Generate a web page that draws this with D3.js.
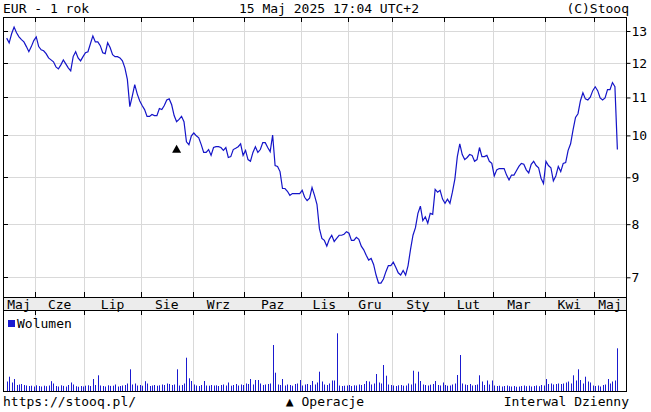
<!DOCTYPE html>
<html><head><meta charset="utf-8">
<script src="https://cdn.jsdelivr.net/npm/d3@7"></script>
<style>
body{margin:0;background:#fff}
svg{display:block}
text{font-family:"DejaVu Sans Mono",monospace;font-size:13px;fill:#000}
</style>
</head><body>
<svg id="c" width="651" height="412"></svg>
<script>
// ---- data ----
const monthLabels = ["Maj","Cze","Lip","Sie","Wrz","Paz","Lis","Gru","Sty","Lut","Mar","Kwi","Maj"];
const monthStartIdx = [0,12,32,55,76,97,120,139,157,178,198,219,239];
const priceTicks = [7,8,9,10,11,12,13];
const closePrices = [
12.77,12.62,12.91,13.13,12.94,12.81,12.72,12.65,12.50,12.34,
12.50,12.69,12.81,12.50,12.40,12.37,12.28,12.15,12.09,12.03,
11.88,11.82,11.94,12.09,11.97,11.85,11.76,12.19,12.34,12.15,
12.06,12.19,12.31,12.34,12.59,12.84,12.65,12.65,12.53,12.31,
12.28,12.62,12.47,12.25,12.19,12.19,12.15,12.06,11.85,11.51,
10.75,11.04,11.36,11.10,10.91,10.78,10.67,10.49,10.49,10.54,
10.51,10.51,10.70,10.67,10.78,10.93,10.96,10.80,10.51,10.35,
10.41,10.49,10.35,9.84,9.77,9.99,10.06,9.99,9.94,9.77,
9.58,9.58,9.65,9.51,9.70,9.72,9.72,9.70,9.63,9.70,
9.46,9.48,9.65,9.68,9.72,9.79,9.51,9.63,9.41,9.37,
9.58,9.72,9.58,9.65,9.82,9.82,9.70,9.60,10.01,9.27,
9.25,9.13,8.75,8.75,8.69,8.60,8.64,8.64,8.64,8.64,
8.71,8.56,8.49,8.54,8.77,8.60,8.41,7.91,7.72,7.68,
7.57,7.70,7.78,7.66,7.72,7.78,7.78,7.80,7.85,7.82,
7.68,7.68,7.74,7.70,7.57,7.50,7.40,7.31,7.34,7.23,
7.04,6.90,6.90,6.97,7.10,7.21,7.21,7.27,7.18,7.08,
7.04,7.12,7.04,7.21,7.51,7.78,7.93,8.22,8.37,8.07,
8.15,8.02,8.22,8.20,8.73,8.67,8.71,8.52,8.43,8.52,
8.43,8.67,8.96,9.48,9.79,9.53,9.41,9.46,9.53,9.51,
9.37,9.41,9.70,9.48,9.48,9.51,9.37,9.32,9.03,9.17,
9.20,9.20,9.20,9.05,8.94,9.05,9.05,9.15,9.25,9.32,
9.30,9.17,9.10,9.30,9.37,9.27,9.22,8.98,8.86,9.37,
9.27,9.22,8.92,9.03,9.25,9.13,9.32,9.34,9.63,9.79,
10.14,10.46,10.56,10.91,11.13,10.96,10.93,11.01,11.19,11.30,
11.19,10.99,10.93,10.99,11.22,11.22,11.42,11.30,9.65
];
const volumes = [
95,143,85,120,60,65,70,60,55,50,
53,45,57,50,45,53,48,55,98,75,
50,45,57,51,45,60,85,65,48,43,
50,45,53,57,50,120,60,157,55,50,
45,57,51,53,65,45,50,55,60,75,
217,65,75,55,60,53,98,75,50,55,
60,53,57,65,60,75,70,60,65,217,
55,60,75,333,127,100,65,55,50,60,
100,55,53,60,55,57,50,60,65,55,
85,53,60,70,55,65,60,75,70,120,
65,110,110,75,60,65,70,75,460,183,
65,60,120,55,65,60,53,70,75,110,
55,65,70,60,100,65,85,193,95,65,
60,75,105,105,577,55,50,53,55,60,
50,57,55,65,60,70,100,95,65,75,
170,85,75,260,153,65,60,55,50,57,
60,53,55,75,65,203,75,193,100,65,
60,55,63,70,100,60,55,85,60,53,
55,65,75,160,360,75,65,60,70,55,
60,65,157,95,60,105,65,105,55,50,
53,45,50,55,48,45,50,43,45,50,
55,48,53,45,50,55,48,60,55,120,
70,75,65,70,75,70,75,85,95,75,
157,105,217,110,75,143,95,85,55,50,
55,45,60,65,120,75,95,105,427
];
const operationIdx = [69];

// ---- layout ----
const L = 3, R = 626, T = 17, B = 297, bandB = 310, volB = 391.5;
const svg = d3.select("#c");

const x = d3.scaleLinear().domain([-1.5, 251.5]).range([L, R]);
const y = d3.scaleLog().domain([7, 13]).range([277.3, 31]);
const yv = d3.scaleLinear().domain([0, 790]).range([391, 312]);

const gridC = "#d9d9d9";
const bounds = monthStartIdx.slice(1).map(i => Math.round(x(i - 0.5)) + 0.5);

// grid main
const g = svg.append("g");
g.selectAll(".hg").data(priceTicks).join("line")
  .attr("x1", L).attr("x2", R)
  .attr("y1", d => Math.round(y(d)) + 0.5).attr("y2", d => Math.round(y(d)) + 0.5)
  .attr("stroke", gridC);
g.selectAll(".vg").data(bounds).join("line")
  .attr("x1", d => d).attr("x2", d => d).attr("y1", T).attr("y2", B)
  .attr("stroke", gridC);
// grid volume
g.selectAll(".vg2").data(bounds).join("line")
  .attr("x1", d => d).attr("x2", d => d).attr("y1", bandB).attr("y2", volB)
  .attr("stroke", gridC);

// band
svg.append("rect").attr("x", L + 0.5).attr("y", B + 0.5).attr("width", R - L).attr("height", bandB - B)
  .attr("fill", "#ececec").attr("stroke", "#000");

// month ticks
const tk = svg.append("g").attr("stroke", "#000");
bounds.forEach(b => {
  tk.append("line").attr("x1", b).attr("x2", b).attr("y1", T).attr("y2", T + 5);
  tk.append("line").attr("x1", b).attr("x2", b).attr("y1", B - 5).attr("y2", B);
  tk.append("line").attr("x1", b).attr("x2", b).attr("y1", bandB).attr("y2", bandB + 5);
});

// month labels
const edges = [L, ...monthStartIdx.slice(1).map(i => x(i - 0.5)), R];
svg.append("g").selectAll("text").data(monthLabels).join("text")
  .attr("x", (d, i) => (edges[i] + edges[i + 1]) / 2)
  .attr("y", 308.5).attr("text-anchor", "middle").text(d => d);

// frames
svg.append("rect").attr("x", L + 0.5).attr("y", T + 0.5).attr("width", R - L).attr("height", B - T)
  .attr("fill", "none").attr("stroke", "#000");
svg.append("rect").attr("x", L + 0.5).attr("y", bandB + 0.5).attr("width", R - L).attr("height", volB - bandB - 0.5)
  .attr("fill", "none").attr("stroke", "#000");

// price axis (right)
const ax = d3.axisRight(y).tickValues(priceTicks).tickFormat(d3.format("d")).tickSize(4).tickPadding(1);
const axg = svg.append("g").attr("transform", `translate(${R + 0.5},0)`).call(ax);
axg.select(".domain").remove();
axg.selectAll("text").attr("font-family", "DejaVu Sans Mono").attr("font-size", 13).attr("fill", "#000");
// left inner ticks
svg.append("g").selectAll("line").data(priceTicks).join("line")
  .attr("x1", L).attr("x2", L + 5)
  .attr("y1", d => Math.round(y(d)) + 0.5).attr("y2", d => Math.round(y(d)) + 0.5)
  .attr("stroke", "#000");

// price line
const lineC = "#1414c8";
svg.append("path").datum(closePrices)
  .attr("d", d3.line().x((d, i) => x(i)).y(d => y(d)))
  .attr("fill", "none").attr("stroke", lineC).attr("stroke-width", 1.2);

// operation markers
svg.append("g").selectAll("path").data(operationIdx).join("path")
  .attr("d", i => { const cx = x(i), cy = y(closePrices[i]) + 27; return `M${cx - 4.5},${cy + 4} L${cx + 4.5},${cy + 4} L${cx},${cy - 4} Z`; })
  .attr("fill", "#000");

// volume bars
svg.append("g").selectAll("rect").data(volumes).join("rect")
  .attr("x", (d, i) => Math.round(x(i)))
  .attr("y", d => yv(d)).attr("width", 1).attr("height", d => yv(0) - yv(d))
  .attr("fill", "#1a1ad0");

// legend
svg.append("rect").attr("x", 8).attr("y", 320).attr("width", 7).attr("height", 7).attr("fill", "#1a1ad0");
svg.append("text").attr("x", 17).attr("y", 328).text("Wolumen");

// header / footer
svg.append("text").attr("x", 3).attr("y", 13).text("EUR - 1 rok");
svg.append("text").attr("x", 329).attr("y", 13).attr("text-anchor", "middle").text("15 Maj 2025 17:04 UTC+2");
svg.append("text").attr("x", 629).attr("y", 13).attr("text-anchor", "end").text("(C)Stooq");
svg.append("text").attr("x", 3).attr("y", 406).text("https://stooq.pl/");
svg.append("text").attr("x", 325).attr("y", 406).attr("text-anchor", "middle").text("▲ Operacje");
svg.append("text").attr("x", 629).attr("y", 406).attr("text-anchor", "end").text("Interwal Dzienny");
</script>
</body></html>
